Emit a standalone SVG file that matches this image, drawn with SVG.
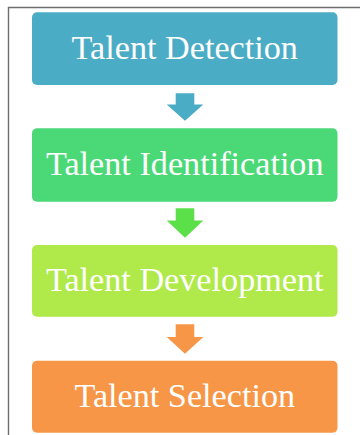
<svg xmlns="http://www.w3.org/2000/svg" width="360" height="435" viewBox="0 0 360 435">
<style>
.lbl{font-family:"Liberation Serif","Times New Roman",serif;font-size:34.2px;fill:#ffffff;text-anchor:middle}
.frame{fill:none;stroke:#6e6e6e;stroke-width:1.4}
</style>
<rect width="360" height="435" fill="#ffffff"/>
<path class="frame" d="M8.5 435 V7.5 H360"/>
<g id="connectors">
<path d="M175.7 93.3 H194.3 V104.5 H203.3 L185 120.7 L166.7 104.5 H175.7 Z" fill="#4bacc6"/>
<path d="M175.7 208.3 H194.3 V220.5 H203.3 L185 237.7 L166.7 220.5 H175.7 Z" fill="#5ce04a"/>
<path d="M175.7 324.3 H194.3 V337 H203.3 L185 353.7 L166.7 337 H175.7 Z" fill="#f79646"/>
</g>
<g id="n1"><rect x="32" y="12.3" width="305.5" height="72.7" rx="5" fill="#4bacc6"/><text class="lbl" x="184.75" y="59.3">Talent Detection</text></g>
<g id="n2"><rect x="32" y="128.3" width="305.5" height="73.4" rx="5" fill="#4bd876"/><text class="lbl" x="184.75" y="175">Talent Identification</text></g>
<g id="n3"><rect x="32" y="245" width="305.5" height="71.7" rx="5" fill="#afea4a"/><text class="lbl" x="184.75" y="291">Talent Development</text></g>
<g id="n4"><rect x="32" y="360.7" width="305.5" height="72" rx="5" fill="#f79646"/><text class="lbl" x="184.75" y="406.7">Talent Selection</text></g>
</svg>
